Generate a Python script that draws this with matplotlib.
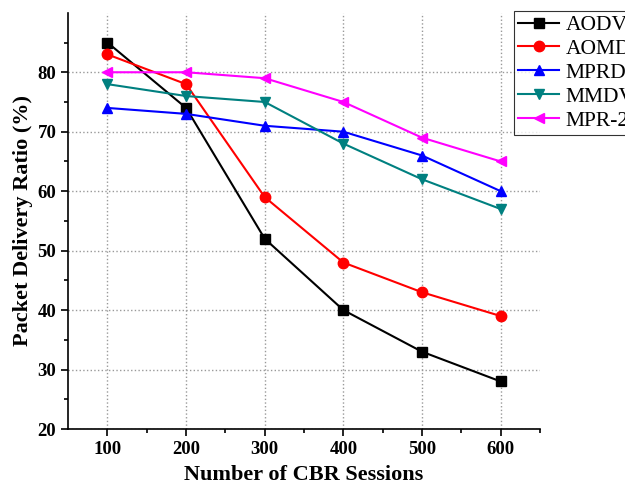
import numpy as np
import matplotlib.pyplot as plt

plt.rcParams['font.family'] = ['Liberation Serif', 'DejaVu Serif']

sessions = [100, 200, 300, 400, 500, 600]
aodv = [85, 74, 52, 40, 33, 28]
aomdv = [83, 78, 59, 48, 43, 39]
mprdv = [74, 73, 71, 70, 66, 60]
mmdv = [78, 76, 75, 68, 62, 57]
mpr2r = [80, 80, 79, 75, 69, 65]

series = [
    ("AODV", aodv, "black", "s"),
    ("AOMDV", aomdv, "red", "o"),
    ("MPRDV", mprdv, "blue", "^"),
    ("MMDV", mmdv, "#008080", "v"),
    ("MPR-2R", mpr2r, "magenta", "<"),
]

fig = plt.figure(figsize=(6.25, 4.92), dpi=100)
ax = fig.add_axes([0.109, 0.128, 0.755, 0.846])

for name, vals, col, mk in series:
    ax.plot(sessions, vals, color=col, marker=mk, markersize=7.5, linewidth=1.5, label=name)

ax.set_xlim(50, 650)
ax.set_ylim(20, 90)
ax.set_xticks(sessions)
ax.set_xticks(np.arange(150, 651, 100), minor=True)
ax.set_yticks(np.arange(20, 81, 10))
ax.set_yticks(np.arange(25, 86, 10), minor=True)
ax.tick_params(which='major', direction='out', length=5, width=1.2, labelsize=13.5)
ax.tick_params(which='minor', direction='out', length=3, width=1.2)
for lbl in ax.get_xticklabels() + ax.get_yticklabels():
    lbl.set_fontweight('bold')

ax.spines['top'].set_visible(False)
ax.spines['right'].set_visible(False)
ax.spines['left'].set_linewidth(1.2)
ax.spines['bottom'].set_linewidth(1.2)
ax.grid(True, which='major', linestyle=':', color='#999999', linewidth=1)

ax.set_xlabel("Number of CBR Sessions", fontsize=16, fontweight='bold', labelpad=5)
ax.set_ylabel("Packet Delivery Ratio (%)", fontsize=16, fontweight='bold', labelpad=3)

leg = ax.legend(loc='upper left', bbox_to_anchor=(0.945, 1.005), fontsize=15.5,
                handlelength=1.9, frameon=True, fancybox=False, edgecolor='black',
                borderpad=0.2, labelspacing=0.18, handletextpad=0.3, borderaxespad=0)
leg.get_frame().set_linewidth(0.8)

fig.savefig("out.png", dpi=100)
